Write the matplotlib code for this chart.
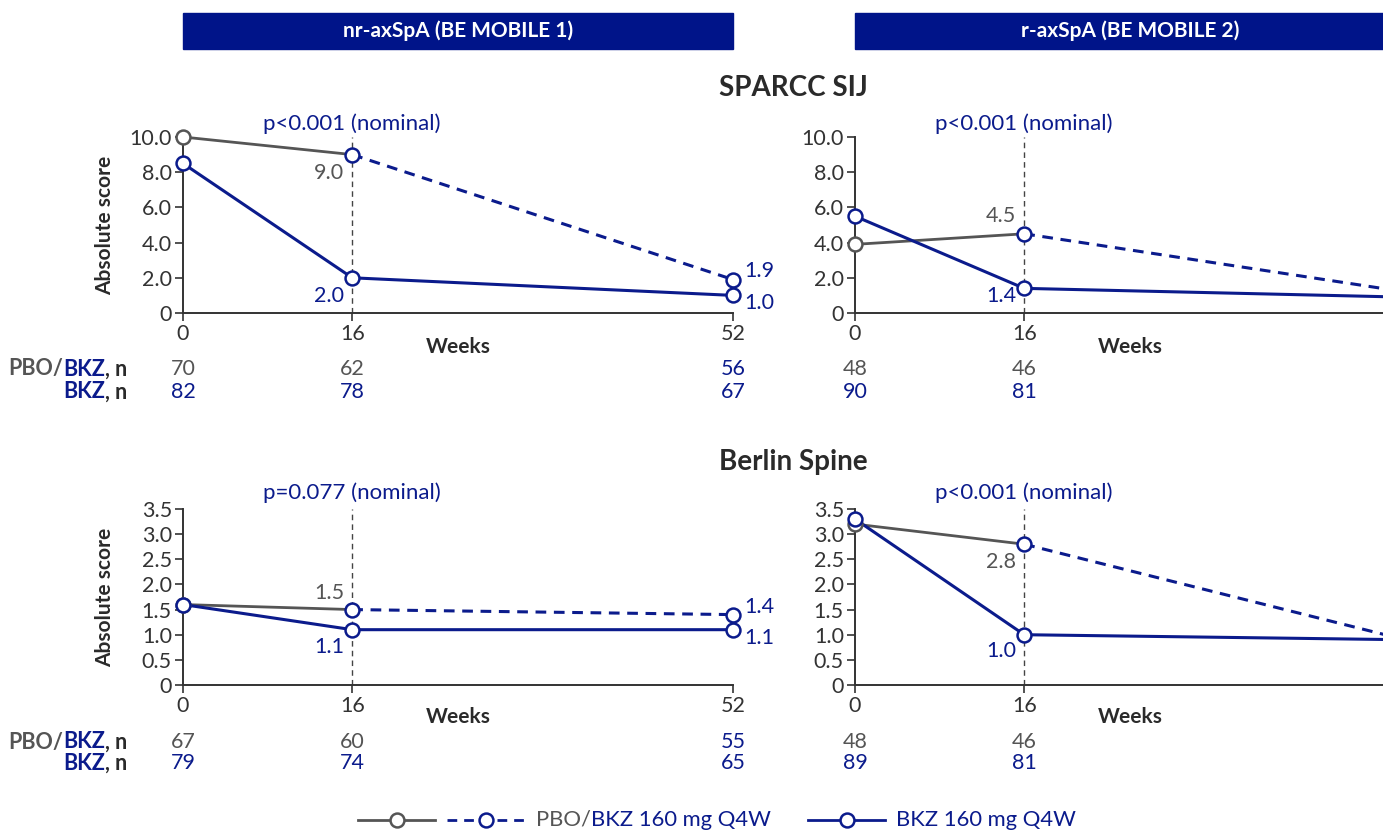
import matplotlib
matplotlib.use("Agg")
import matplotlib.pyplot as plt
from matplotlib.lines import Line2D
from matplotlib.transforms import blended_transform_factory

plt.rcParams["font.family"] = ["Lato", "DejaVu Sans"]

BLUE = "#0b1b8c"
GRAY = "#555555"
DARK = "#2a2a2a"
W, H = 1383, 835

weeks = [0, 16, 52]

# SPARCC SIJ
sparcc_nr_pbo = [10.0, 9.0, 1.9]
sparcc_nr_bkz = [8.5, 2.0, 1.0]
sparcc_r_pbo = [3.9, 4.5, 1.2]
sparcc_r_bkz = [5.5, 1.4, 0.9]
# Berlin Spine
berlin_nr_pbo = [1.6, 1.5, 1.4]
berlin_nr_bkz = [1.6, 1.1, 1.1]
berlin_r_pbo = [3.2, 2.8, 0.9]
berlin_r_bkz = [3.3, 1.0, 0.9]

# patients at risk
n_sparcc_nr_pbo = [70, 62, 56]
n_sparcc_nr_bkz = [82, 78, 67]
n_sparcc_r_pbo = [48, 46]
n_sparcc_r_bkz = [90, 81]
n_berlin_nr_pbo = [67, 60, 55]
n_berlin_nr_bkz = [79, 74, 65]
n_berlin_r_pbo = [48, 46]
n_berlin_r_bkz = [89, 81]

p_values = ["p<0.001 (nominal)", "p<0.001 (nominal)",
            "p=0.077 (nominal)", "p<0.001 (nominal)"]

FS = 15.5  # regular text size


def fx(px):
    return px / W


def fy(py):
    return 1 - py / H


fig = plt.figure(figsize=(W / 100, H / 100), dpi=100)
renderer = fig.canvas.get_renderer()


def put_parts(x_px, y_px, parts, ha="left", size=14, weight="normal"):
    # draw a line of text made of differently coloured pieces
    texts = []
    for s, c in parts:
        t = fig.text(0, 0, s, color=c, fontsize=size, fontweight=weight,
                     va="center", ha="left")
        texts.append(t)
    widths = [t.get_window_extent(renderer).width for t in texts]
    x = x_px - sum(widths) if ha == "right" else x_px
    for t, w in zip(texts, widths):
        t.set_position((fx(x), fy(y_px)))
        x += w


def make_axes(left_px, top_px, bottom_px, ylim, yticks, yticklabels, xt):
    ax = fig.add_axes([fx(left_px), fy(bottom_px), 550 / W,
                       (bottom_px - top_px) / H])
    ax.set_xlim(0, 52)
    ax.set_ylim(*ylim)
    ax.set_xticks(xt)
    ax.set_xticklabels([str(w) for w in xt])
    ax.set_yticks(yticks)
    ax.set_yticklabels(yticklabels)
    for s in ["top", "right"]:
        ax.spines[s].set_visible(False)
    for s in ["left", "bottom"]:
        ax.spines[s].set_color("#333333")
        ax.spines[s].set_linewidth(1.4)
    ax.tick_params(length=6, width=1.2, color="#333333", labelsize=FS,
                   labelcolor="#333333", pad=2)
    ax.axvline(16, color="#444444", lw=1, ls=(0, (4, 3)), zorder=1)
    return ax


def draw_series(ax, pbo, bkz):
    ax.plot(weeks[:2], pbo[:2], color=GRAY, lw=2, zorder=2, clip_on=False)
    ax.plot(weeks[1:], pbo[1:], color=BLUE, lw=2.2, ls=(0, (3.5, 2.5)),
            zorder=2, clip_on=False)
    ax.plot(weeks, bkz, color=BLUE, lw=2.2, zorder=2, clip_on=False)
    ax.plot(weeks[:1], pbo[:1], ls="none", marker="o", ms=10, mfc="white",
            mec=GRAY, mew=1.8, zorder=3, clip_on=False)
    ax.plot(weeks[1:], pbo[1:], ls="none", marker="o", ms=10, mfc="white",
            mec=BLUE, mew=1.8, zorder=3, clip_on=False)
    ax.plot(weeks, bkz, ls="none", marker="o", ms=10, mfc="white",
            mec=BLUE, mew=1.8, zorder=4, clip_on=False)


def label(ax, x, y, s, color, dx, dy, ha):
    ax.annotate(s, (x, y), xytext=(dx, dy), textcoords="offset pixels",
                ha=ha, va="center", color=color, fontsize=FS)


def n_rows(ax, pbo_n, bkz_n, y1, y2):
    tr = blended_transform_factory(ax.transData, fig.transFigure)
    for i, v in enumerate(pbo_n):
        c = GRAY if weeks[i] < 52 else BLUE
        ax.text(weeks[i], fy(y1), str(v), transform=tr, ha="center",
                va="center", color=c, fontsize=FS, clip_on=False)
    for i, v in enumerate(bkz_n):
        ax.text(weeks[i], fy(y2), str(v), transform=tr, ha="center",
                va="center", color=BLUE, fontsize=FS, clip_on=False)


def weeks_label(ax, y_px):
    tr = blended_transform_factory(ax.transAxes, fig.transFigure)
    ax.text(0.5, fy(y_px), "Weeks", transform=tr, ha="center", va="center",
            fontsize=15, fontweight="bold", color=DARK)


def pval(ax, y_px, s):
    tr = blended_transform_factory(ax.transData, fig.transFigure)
    ax.text(16, fy(y_px), s, transform=tr, ha="center", va="center",
            fontsize=16, color=BLUE)


# banners
for left, txt in [(183, "nr-axSpA (BE MOBILE 1)"), (855, "r-axSpA (BE MOBILE 2)")]:
    fig.patches.append(plt.Rectangle((fx(left), fy(49)), 550 / W, 36 / H,
                                     transform=fig.transFigure,
                                     color="#001489", zorder=0))
    fig.text(fx(left + 275), fy(31), txt, color="white", fontsize=15,
             fontweight="bold", ha="center", va="center")

fig.text(fx(793), fy(88), "SPARCC SIJ", fontsize=20, fontweight="bold",
         ha="center", va="center", color=DARK)
fig.text(fx(793), fy(462), "Berlin Spine", fontsize=20, fontweight="bold",
         ha="center", va="center", color=DARK)

sp_ticks = [0, 2, 4, 6, 8, 10]
sp_labels = ["0", "2.0", "4.0", "6.0", "8.0", "10.0"]
be_ticks = [0, 0.5, 1, 1.5, 2, 2.5, 3, 3.5]
be_labels = ["0", "0.5", "1.0", "1.5", "2.0", "2.5", "3.0", "3.5"]

# top left
ax1 = make_axes(183, 137, 313, (0, 10), sp_ticks, sp_labels, weeks)
draw_series(ax1, sparcc_nr_pbo, sparcc_nr_bkz)
label(ax1, 16, sparcc_nr_pbo[1], "9.0", GRAY, -8, -18, "right")
label(ax1, 16, sparcc_nr_bkz[1], "2.0", BLUE, -8, -18, "right")
label(ax1, 52, sparcc_nr_pbo[2], "1.9", BLUE, 11, 9, "left")
label(ax1, 52, sparcc_nr_bkz[2], "1.0", BLUE, 11, -8, "left")
n_rows(ax1, n_sparcc_nr_pbo, n_sparcc_nr_bkz, 369, 392)
weeks_label(ax1, 347)
pval(ax1, 124, p_values[0])

# top right (its week 52 end runs past the right edge)
ax2 = make_axes(855, 137, 313, (0, 10), sp_ticks, sp_labels, weeks[:2])
draw_series(ax2, sparcc_r_pbo, sparcc_r_bkz)
label(ax2, 16, sparcc_r_pbo[1], "4.5", GRAY, -8, 18, "right")
label(ax2, 16, sparcc_r_bkz[1], "1.4", BLUE, -8, -8, "right")
n_rows(ax2, n_sparcc_r_pbo, n_sparcc_r_bkz, 369, 392)
weeks_label(ax2, 347)
pval(ax2, 124, p_values[1])

# bottom left
ax3 = make_axes(183, 509, 685, (0, 3.5), be_ticks, be_labels, weeks)
draw_series(ax3, berlin_nr_pbo, berlin_nr_bkz)
label(ax3, 16, berlin_nr_pbo[1], "1.5", GRAY, -8, 17, "right")
label(ax3, 16, berlin_nr_bkz[1], "1.1", BLUE, -8, -17, "right")
label(ax3, 52, berlin_nr_pbo[2], "1.4", BLUE, 11, 8, "left")
label(ax3, 52, berlin_nr_bkz[2], "1.1", BLUE, 11, -8, "left")
n_rows(ax3, n_berlin_nr_pbo, n_berlin_nr_bkz, 742, 763)
weeks_label(ax3, 717)
pval(ax3, 493, p_values[2])

# bottom right
ax4 = make_axes(855, 509, 685, (0, 3.5), be_ticks, be_labels, weeks[:2])
draw_series(ax4, berlin_r_pbo, berlin_r_bkz)
label(ax4, 16, berlin_r_pbo[1], "2.8", GRAY, -8, -18, "right")
label(ax4, 16, berlin_r_bkz[1], "1.0", BLUE, -8, -16, "right")
n_rows(ax4, n_berlin_r_pbo, n_berlin_r_bkz, 742, 763)
weeks_label(ax4, 717)
pval(ax4, 493, p_values[3])

for ax in (ax1, ax3):
    tr = blended_transform_factory(fig.transFigure, ax.transAxes)
    ax.text(fx(105), 0.5, "Absolute score", transform=tr, rotation=90,
            ha="center", va="center", fontsize=15, fontweight="bold",
            color=DARK)

# row labels for the n tables
for y1, y2 in [(369, 392), (742, 763)]:
    put_parts(127, y1, [("PBO/", GRAY), ("BKZ", BLUE), (", n", DARK)],
              ha="right", size=15.5, weight="bold")
    put_parts(127, y2, [("BKZ", BLUE), (", n", DARK)],
              ha="right", size=15.5, weight="bold")

# legend
ly = fy(820)
fig.add_artist(Line2D([fx(358), fx(435)], [ly, ly], color=GRAY, lw=2))
fig.add_artist(Line2D([fx(397)], [ly], color=GRAY, marker="o", ms=10,
                      mfc="white", mew=1.8))
fig.add_artist(Line2D([fx(447), fx(525)], [ly, ly], color=BLUE, lw=2,
                      ls=(0, (3.5, 2.5))))
fig.add_artist(Line2D([fx(486)], [ly], color=BLUE, marker="o", ms=10,
                      mfc="white", mew=1.8))
put_parts(536, 820, [("PBO/", GRAY), ("BKZ 160 mg Q4W", BLUE)], size=15.8)
fig.add_artist(Line2D([fx(808), fx(885)], [ly, ly], color=BLUE, lw=2))
fig.add_artist(Line2D([fx(847)], [ly], color=BLUE, marker="o", ms=10,
                      mfc="white", mew=1.8))
put_parts(896, 820, [("BKZ 160 mg Q4W", BLUE)], size=15.8)

fig.savefig("out.png", dpi=100)
